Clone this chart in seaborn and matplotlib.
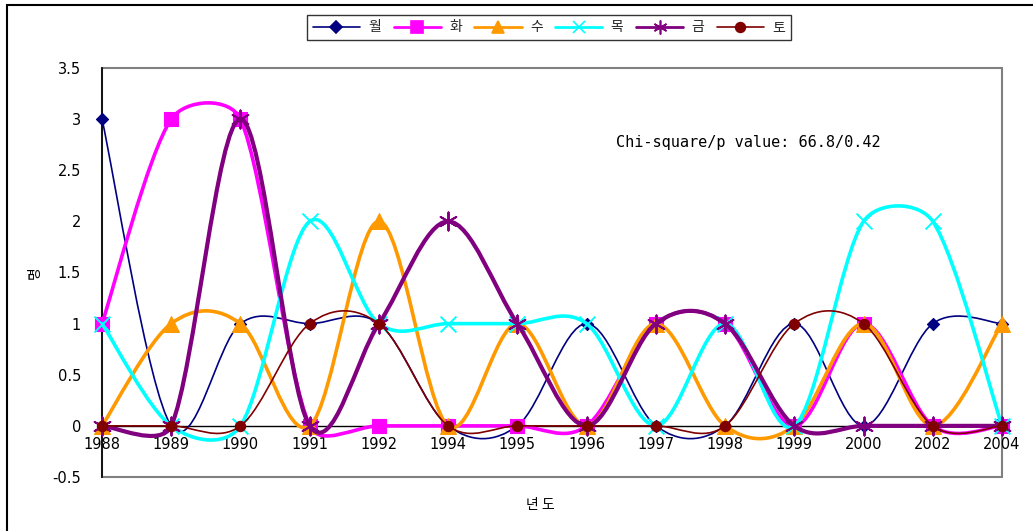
import numpy as np
import pandas as pd
import matplotlib
matplotlib.use("Agg")
import matplotlib.pyplot as plt
import matplotlib.transforms as mtransforms
import seaborn as sns
from matplotlib.path import Path
from matplotlib.patches import PathPatch, Rectangle
from matplotlib.lines import Line2D

# ---- data ----
years = ["1988", "1989", "1990", "1991", "1992", "1994", "1995",
         "1996", "1997", "1998", "1999", "2000", "2002", "2004"]
mon = [3, 0, 1, 1, 1, 0, 0, 1, 0, 0, 1, 0, 1, 1]   # 월
tue = [1, 3, 3, 0, 0, 0, 0, 0, 1, 1, 0, 1, 0, 0]   # 화
wed = [0, 1, 1, 0, 2, 0, 1, 0, 1, 0, 0, 1, 0, 1]   # 수
thu = [1, 0, 0, 2, 1, 1, 1, 1, 0, 1, 0, 2, 2, 0]   # 목
fri = [0, 0, 3, 0, 1, 2, 1, 0, 1, 1, 0, 0, 0, 0]   # 금
sat = [0, 0, 0, 1, 1, 0, 0, 0, 0, 0, 1, 1, 0, 0]   # 토
series_names = ["월", "화", "수", "목", "금", "토"]
y_ticks = [-0.5, 0, 0.5, 1, 1.5, 2, 2.5, 3, 3.5]
y_tick_labels = ["-0.5", "0", "0.5", "1", "1.5", "2", "2.5", "3", "3.5"]
note_text = "Chi-square/p value: 66.8/0.42"

sns.set_theme(style="white")
plt.rcParams["font.family"] = ["DejaVu Sans", "Noto Sans CJK KR"]
KR = ["Noto Sans CJK KR", "DejaVu Sans"]

W, H = 1033, 531
fig = plt.figure(figsize=(W / 100, H / 100), dpi=100)
fig.patch.set_facecolor("white")
ax = fig.add_axes([102 / W, 1 - 477 / H, 900 / W, 409 / H])
ax.set_facecolor("white")

n = len(years)
xpos = np.arange(n)
ax.set_xlim(0, n - 1)
ax.set_ylim(-0.5, 3.5)

# pixel size of one data unit, used for the smoothed curves
SX = 900 / (n - 1)
SY = 409 / 4.0


def smooth_path(xs, ys):
    """Bezier smoothing of a polyline: tangent from the neighbouring points,
    1/6 tension, with long control arms shortened relative to the segment."""
    P = np.column_stack([np.asarray(xs, float) * SX, np.asarray(ys, float) * SY])
    m = len(P)
    verts = [P[0]]
    codes = [Path.MOVETO]

    def arm(t, seg):
        L = np.linalg.norm(t)
        if L == 0:
            return t * 0
        if L / 6 <= seg / 2:
            return t / 6
        return t / L * (0.36 * seg)

    for i in range(m - 1):
        p0 = P[i - 1] if i > 0 else P[i]
        p1, p2 = P[i], P[i + 1]
        p3 = P[i + 2] if i + 2 < m else P[i + 1]
        seg = np.linalg.norm(p2 - p1)
        c1 = p1 + arm(p2 - p0, seg)
        c2 = p2 - arm(p3 - p1, seg)
        verts += [c1, c2, p2]
        codes += [Path.CURVE4] * 3
    V = np.array(verts)
    V[:, 0] /= SX
    V[:, 1] /= SY
    return Path(V, codes)


styles = [
    dict(vals=mon, color="#000080", lw=1.2, marker="D", s=38, filled=True, ms=6),
    dict(vals=tue, color="#FF00FF", lw=2.6, marker="s", s=110, filled=True, ms=8),
    dict(vals=wed, color="#FF9900", lw=2.6, marker="^", s=130, filled=True, ms=9),
    dict(vals=thu, color="#00FFFF", lw=2.6, marker="x", s=130, filled=False, ms=9),
    dict(vals=fri, color="#800080", lw=3.0, marker=(6, 2, 0), s=170, filled=False, ms=10),
    dict(vals=sat, color="#800000", lw=1.2, marker="o", s=55, filled=True, ms=7),
]

# plot-area frame and zero line
ax.add_patch(Rectangle((0, 0), 1, 1, transform=ax.transAxes, fill=False,
                       ec="#808080", lw=1.5, zorder=1, clip_on=False))
ax.axhline(0, color="black", lw=1.0, zorder=1.5)

for k, (name, st) in enumerate(zip(series_names, styles)):
    z = 2 + 2 * k
    ax.add_patch(PathPatch(smooth_path(xpos, st["vals"]), fill=False,
                           ec=st["color"], lw=st["lw"], zorder=z,
                           capstyle="round", joinstyle="round"))
    df = pd.DataFrame({"x": xpos, "y": st["vals"]})
    if st["filled"]:
        sns.scatterplot(data=df, x="x", y="y", marker=st["marker"], s=st["s"],
                        color=st["color"], edgecolor=st["color"], linewidth=0.8,
                        ax=ax, zorder=z + 1, clip_on=False, legend=False)
    else:
        sns.scatterplot(data=df, x="x", y="y", marker=st["marker"], s=st["s"],
                        color=st["color"], linewidth=1.4,
                        ax=ax, zorder=z + 1, clip_on=False, legend=False)

# axes styling
for side in ["top", "right", "bottom"]:
    ax.spines[side].set_visible(False)
ax.spines["left"].set_color("black")
ax.spines["left"].set_linewidth(1.2)
ax.spines["left"].set_zorder(1.6)
ax.set_xlabel("")
ax.set_ylabel("")
ax.set_yticks(y_ticks)
ax.set_yticklabels(y_tick_labels, fontsize=10.5)
ax.tick_params(axis="y", length=0, pad=15, colors="black")
ax.set_xticks([])
ax.grid(False)

# category labels sit just under the zero line
below = ax.transData + mtransforms.ScaledTranslation(0, -11 / 100, fig.dpi_scale_trans)
for xi, lab in zip(xpos, years):
    ax.text(xi, 0, lab, transform=below, ha="center", va="top",
            fontsize=10.5, color="black")

fig.text(748 / W, 1 - 143 / H, note_text, ha="center", va="center",
         fontsize=11, family="DejaVu Sans Mono", color="black")
fig.text(35 / W, 1 - 273 / H, "명", rotation=90, ha="center", va="center",
         fontsize=10, family=KR, color="black")
fig.text(540 / W, 1 - 505 / H, "년 도", ha="center", va="center",
         fontsize=10, family=KR, color="black")

# legend
handles = [Line2D([0], [0], color=st["color"], lw=min(st["lw"], 2.0),
                  marker=st["marker"], markersize=st["ms"],
                  markerfacecolor=st["color"], markeredgecolor=st["color"],
                  markeredgewidth=1.2)
           for st in styles]
leg = fig.legend(handles, series_names, loc="upper center", ncol=6,
                 bbox_to_anchor=(549 / W, 1 - 8 / H), frameon=True,
                 prop={"family": KR, "size": 10}, handlelength=3.4,
                 handletextpad=0.6, columnspacing=0.9, borderpad=0.4,
                 fancybox=False, edgecolor="black")
leg.get_frame().set_linewidth(1.0)

# outer chart border
fig.patches.append(Rectangle((7 / W, -0.1), 1.2, (H - 5) / H + 0.1,
                             transform=fig.transFigure, fill=False,
                             ec="black", lw=1.5))

fig.savefig("out.png", dpi=100, facecolor="white")
